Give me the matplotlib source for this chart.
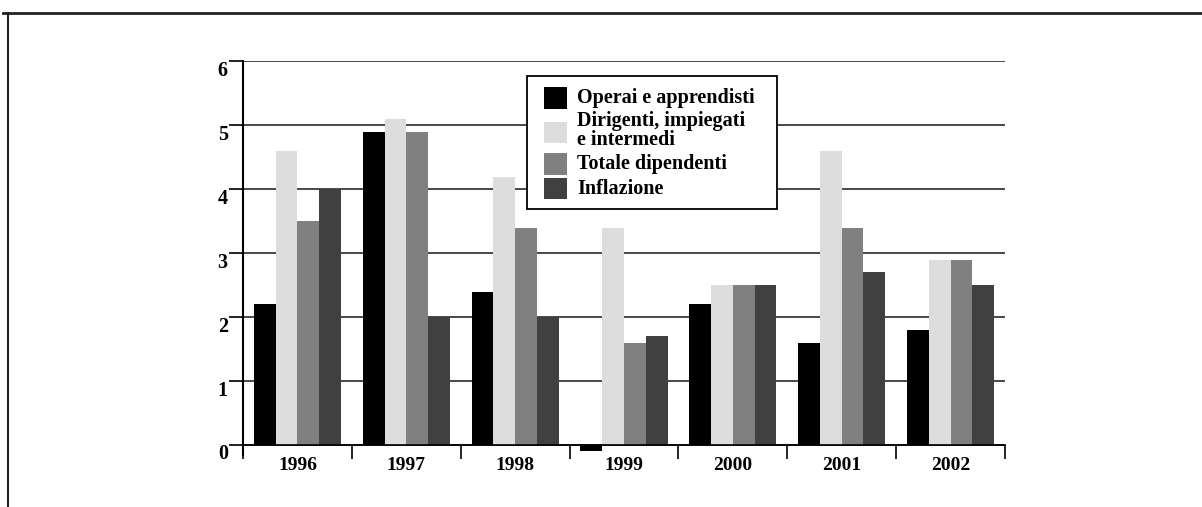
import matplotlib
matplotlib.use('Agg')
import matplotlib.pyplot as plt
from matplotlib.lines import Line2D
from matplotlib.patches import Patch, Rectangle
from matplotlib.legend_handler import HandlerPatch
from matplotlib.transforms import ScaledTranslation
import numpy as np

years = ['1996', '1997', '1998', '1999', '2000', '2001', '2002']
operai = [2.2, 4.9, 2.4, -0.1, 2.2, 1.6, 1.8]
dirigenti = [4.6, 5.1, 4.2, 3.4, 2.5, 4.6, 2.9]
totale = [3.5, 4.9, 3.4, 1.6, 2.5, 3.4, 2.9]
inflazione = [4.0, 2.0, 2.0, 1.7, 2.5, 2.7, 2.5]

series = [operai, dirigenti, totale, inflazione]
labels = ['Operai e apprendisti', 'Dirigenti, impiegati\ne intermedi',
          'Totale dipendenti', 'Inflazione']
colors = ['#000000', '#dddddd', '#808080', '#404040']

plt.rcParams['font.family'] = ['Liberation Serif', 'DejaVu Serif']
plt.rcParams['font.weight'] = 'bold'

fig = plt.figure(figsize=(12.02, 5.07), dpi=100)
ax = fig.add_axes([0.2022, 0.1022, 0.6339, 0.7765])

x = np.arange(len(years))
w = 0.2
for i, (vals, col) in enumerate(zip(series, colors)):
    ax.bar(x + (i - 1.5) * w, vals, w, color=col, zorder=3)

ax.set_xlim(-0.5, len(years) - 0.5)
ax.set_ylim(-0.16, 6)

# grid
ax.set_yticks(range(0, 7))
ax.yaxis.grid(True, color='#2a2a2a', linewidth=1.2, zorder=1)
ax.set_axisbelow(True)
ax.tick_params(axis='y', direction='out', length=10, width=1.2, pad=1,
               labelsize=14.5, colors='black')
for t in ax.get_yticklabels():
    t.set_fontweight('bold')
    t.set_transform(t.get_transform() + ScaledTranslation(0, -7 / 100, fig.dpi_scale_trans))

# x ticks: boundaries as major, labels at centres
ax.set_xticks(np.arange(-0.5, len(years), 1.0))
ax.set_xticklabels([])
ax.set_xticks(x, minor=True)
ax.set_xticklabels(years, minor=True, fontweight='bold')
ax.tick_params(axis='x', which='major', direction='out', length=10, width=1.2)
ax.tick_params(axis='x', which='minor', length=0, pad=9, labelsize=14)

for s in ['top', 'right']:
    ax.spines[s].set_visible(False)
ax.spines['bottom'].set_position(('data', 0))
ax.spines['bottom'].set_linewidth(1.2)
ax.spines['left'].set_linewidth(1.5)
ax.spines['bottom'].set_zorder(4)

# legend: frame drawn by hand, entries by legend
ax.add_patch(Rectangle((0.3727, 0.6254), 0.7008 - 0.3727, 0.9632 - 0.6254,
                       transform=ax.transAxes, facecolor='white', edgecolor='black',
                       linewidth=1.3, zorder=5, clip_on=False))


def square(legend, orig_handle, xdescent, ydescent, width, height, fontsize):
    return Rectangle((-xdescent, -ydescent - 0.12 * height), width, height * 1.1)


handles = [Patch(facecolor=c, edgecolor='none') for c in colors]
leg = ax.legend(handles, labels, loc='upper left', bbox_to_anchor=(0.395, 0.9353),
                borderaxespad=0, borderpad=0, frameon=False,
                prop={'size': 14.5, 'weight': 'bold'}, handlelength=1.15,
                handleheight=1.1, handletextpad=0.5, labelspacing=0.14,
                handler_map={Patch: HandlerPatch(patch_func=square)})
leg.set_zorder(6)
for t in leg.get_texts():
    t.set_linespacing(0.92)

# page frame lines
fig.add_artist(Line2D([3 / 1202, 1], [1 - 13 / 507, 1 - 13 / 507], color='#222222', linewidth=2))
fig.add_artist(Line2D([8 / 1202, 8 / 1202], [0, 1 - 13 / 507], color='#222222', linewidth=1.5))

fig.savefig('out.png', dpi=100)
